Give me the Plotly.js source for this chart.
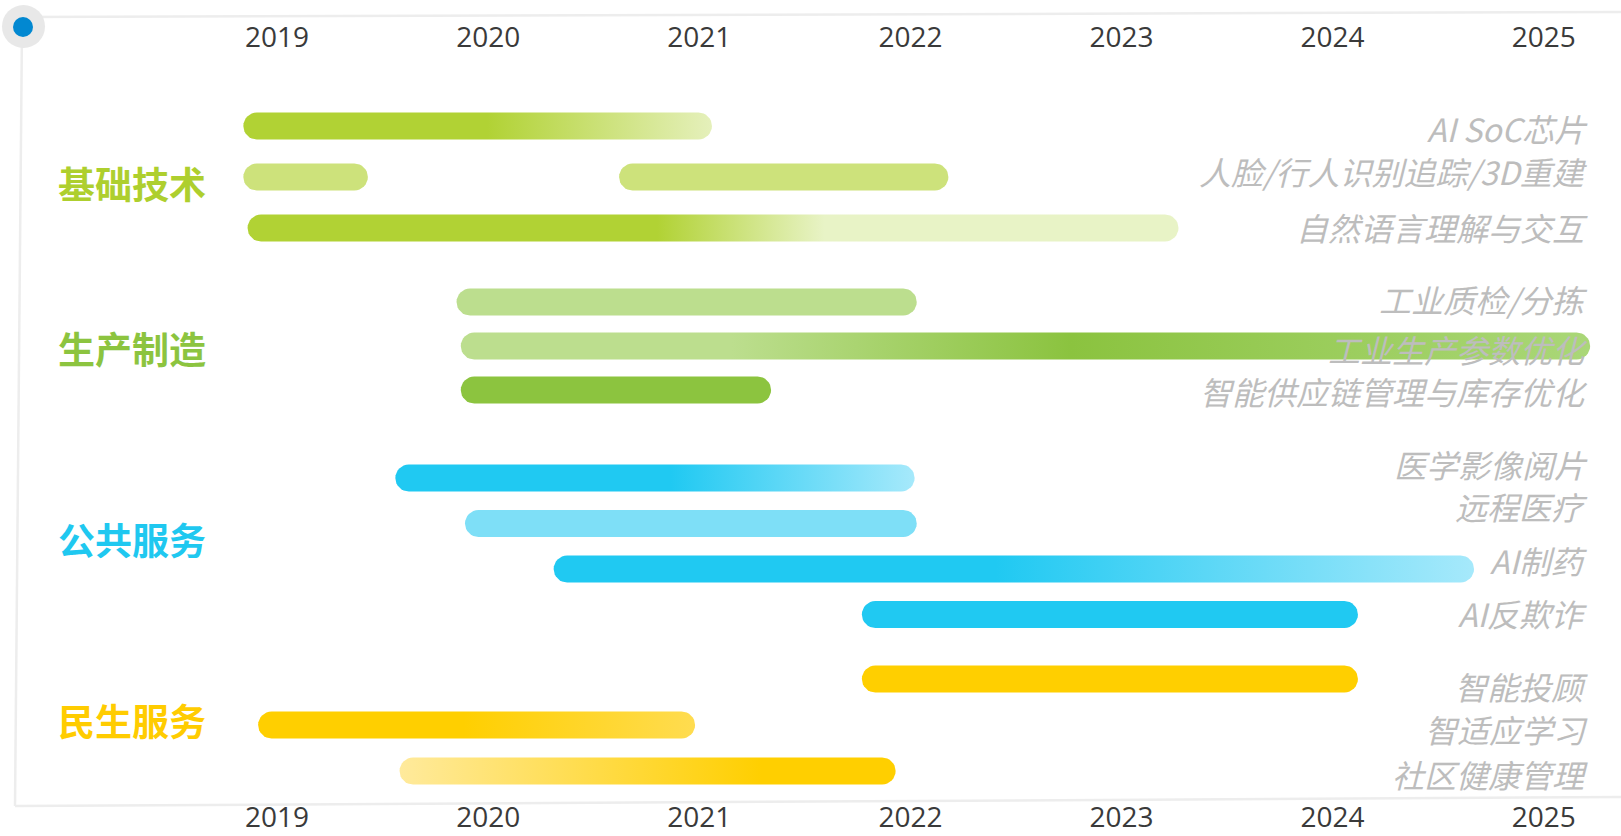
<!DOCTYPE html>
<html>
<head>
<meta charset="utf-8">
<script src="https://cdn.plot.ly/plotly-3.0.1.min.js"></script>
<style>
  html, body { margin: 0; padding: 0; background: #ffffff; }
  #chart { width: 1621px; height: 836px; }
</style>
</head>
<body>
<div id="chart"></div>
<script>
// ---- data ----
const years = [2019, 2020, 2021, 2022, 2023, 2024, 2025];
const groups = ['基础技术', '生产制造', '公共服务', '民生服务'];
const taskNames = [
    'AI SoC芯片', '人脸/行人识别追踪/3D重建', '自然语言理解与交互',
    '工业质检/分拣', '工业生产参数优化', '智能供应链管理与库存优化',
    '医学影像阅片', '远程医疗', 'AI制药', 'AI反欺诈',
    '智能投顾', '智适应学习', '社区健康管理'
];
const taskGroup = [0, 0, 0, 1, 1, 1, 2, 2, 2, 2, 3, 3, 3];
// one entry per bar segment (a task can have more than one)
const segTask  = [0, 1, 1, 2, 3, 4, 5, 6, 7, 8, 9, 10, 11, 12];
const segStart = [2018.84, 2018.84, 2020.62, 2018.86, 2019.85, 2019.87, 2019.87,
                  2019.56, 2019.89, 2020.31, 2021.77, 2021.77, 2018.91, 2019.58];
const segEnd   = [2021.06, 2019.43, 2022.18, 2023.27, 2022.03, 2025.22, 2021.34,
                  2022.02, 2022.03, 2024.67, 2024.12, 2024.12, 2020.98, 2021.93];

// ---- styles ----
const groupColors = ['#AECF2E', '#8CC43F', '#1FC8F0', '#FFCC00'];
const segFill = [
    [[0, '#B1D234'], [0.52, '#B1D234'], [1, '#E5F0BB']],
    '#CDE27B',
    '#CDE27B',
    [[0, '#B1D234'], [0.44, '#B1D234'], [0.62, '#E8F3C6'], [1, '#E8F3C6']],
    '#BCDE8E',
    [[0, '#BCDE8E'], [0.24, '#BCDE8E'], [0.54, '#8BC33F'], [1, '#AAD778']],
    '#8CC43F',
    [[0, '#20C9F2'], [0.53, '#20C9F2'], [1, '#A6E9FB']],
    '#7EDFF7',
    [[0, '#20C9F2'], [0.48, '#20C9F2'], [1, '#A6E9FB']],
    '#20C9F2',
    '#FFCF00',
    [[0, '#FFCF00'], [0.47, '#FFCF00'], [1, '#FFDC50']],
    [[0, '#FFEA9C'], [0.73, '#FFCF00'], [1, '#FFCF00']]
];

// ---- layout geometry (pixels) ----
const W = 1621, H = 836;
const plotTop = 17, plotBottom = 798;
const yearPx = 211.1;              // pixels per year
const x2019 = 277.1;               // pixel of 2019 tick
const xMin = 2019 - x2019 / yearPx;
const xMax = xMin + W / yearPx;
const barR = 13.5;                 // half bar thickness
const groupTop = [126, 302, 478, 679];
const groupStep = [51, 44, 45.5, 46];
const labelY = [128, 171, 227, 299, 349, 391, 464, 506, 560, 613, 686, 729, 774];
const groupLabelY = [183, 348, 539, 720];

// row position of each task
const rowIndex = taskGroup.map((g, i) => taskGroup.slice(0, i).filter(v => v === g).length);
const rowY = taskGroup.map((g, i) => groupTop[g] + rowIndex[i] * groupStep[g]);

// rounded bar outline from start / end year
function stadium(x0, x1, yc) {
    const rx = barR / yearPx;
    const xs = [], ys = [];
    const n = 16;
    for (let k = 0; k <= n; k++) {
        const t = -Math.PI / 2 + Math.PI * k / n;
        xs.push(x1 - rx + Math.cos(t) * rx);
        ys.push(yc + Math.sin(t) * barR);
    }
    for (let k = 0; k <= n; k++) {
        const t = Math.PI / 2 + Math.PI * k / n;
        xs.push(x0 + rx + Math.cos(t) * rx);
        ys.push(yc + Math.sin(t) * barR);
    }
    xs.push(xs[0]); ys.push(ys[0]);
    return { xs, ys };
}

let data = [];
segTask.forEach((t, i) => {
    const s = stadium(segStart[i], segEnd[i], rowY[t]);
    const tr = {
        x: s.xs, y: s.ys,
        type: 'scatter', mode: 'lines',
        fill: 'toself',
        line: { width: 0, color: 'rgba(0,0,0,0)' },
        hoverinfo: 'text', text: taskNames[t],
        showlegend: false
    };
    const f = segFill[i];
    if (typeof f === 'string') {
        tr.fillcolor = f;
    } else {
        tr.fillgradient = { type: 'horizontal', colorscale: f };
    }
    data.push(tr);
});

// dummy trace so the top year axis is drawn
data.push({
    x: years, y: years.map(() => 400), xaxis: 'x2',
    type: 'scatter', mode: 'markers', marker: { opacity: 0 },
    hoverinfo: 'skip', showlegend: false
});

let annotations = [];
taskNames.forEach((name, i) => {
    annotations.push({
        text: name, xref: 'paper', yref: 'y',
        x: 1590 / W, y: labelY[i], xanchor: 'right', yanchor: 'middle',
        showarrow: false,
        font: { family: 'Noto Sans CJK SC', size: 32, color: '#BDBDBD', style: 'italic' }
    });
});
groups.forEach((g, i) => {
    annotations.push({
        text: g, xref: 'paper', yref: 'y',
        x: 132 / W, y: groupLabelY[i], xanchor: 'center', yanchor: 'middle',
        showarrow: false,
        font: { family: 'Noto Sans CJK SC', size: 37, color: groupColors[i], weight: 700 }
    });
});

// paper y from pixel y
const py = p => (plotBottom - p) / (plotBottom - plotTop);
const frame = { color: '#EDEDED', width: 2.5 };
const shapes = [
    { type: 'line', xref: 'paper', yref: 'paper', x0: 23 / W, y0: py(17), x1: 1, y1: py(12), line: frame, layer: 'below' },
    { type: 'line', xref: 'paper', yref: 'paper', x0: 22 / W, y0: py(26), x1: 15 / W, y1: py(806), line: frame, layer: 'below' },
    { type: 'line', xref: 'paper', yref: 'paper', x0: 15 / W, y0: py(806), x1: 1, y1: py(797), line: frame, layer: 'below' },
    { type: 'circle', xref: 'paper', yref: 'paper', xsizemode: 'pixel', ysizemode: 'pixel',
      xanchor: 23.5 / W, yanchor: py(26.5), x0: -21.5, x1: 21.5, y0: -21.5, y1: 21.5,
      fillcolor: '#E8E8E8', line: { width: 0 } },
    { type: 'circle', xref: 'paper', yref: 'paper', xsizemode: 'pixel', ysizemode: 'pixel',
      xanchor: 23 / W, yanchor: py(27), x0: -10, x1: 10, y0: -10, y1: 10,
      fillcolor: '#0288D1', line: { width: 0 } }
];

const tickFont = { family: 'Open Sans', size: 28, color: '#3A3A3A' };
let layout = {
    width: W, height: H,
    margin: { l: 0, r: 0, t: plotTop, b: H - plotBottom },
    paper_bgcolor: '#ffffff', plot_bgcolor: '#ffffff',
    xaxis: {
        range: [xMin, xMax], tickvals: years, ticktext: years.map(String),
        showgrid: false, zeroline: false, showline: false, ticks: '',
        tickfont: tickFont, fixedrange: true
    },
    xaxis2: {
        overlaying: 'x', matches: 'x', side: 'top', anchor: 'y',
        range: [xMin, xMax], tickvals: years, ticktext: years.map(String),
        ticklabelposition: 'inside', ticklabelstandoff: 7,
        showgrid: false, zeroline: false, showline: false, ticks: '',
        tickfont: tickFont
    },
    yaxis: {
        range: [plotBottom, plotTop], visible: false, fixedrange: true
    },
    shapes: shapes,
    annotations: annotations,
    hovermode: 'closest'
};

Plotly.newPlot('chart', data, layout, { displayModeBar: false, staticPlot: true });
</script>
</body>
</html>
